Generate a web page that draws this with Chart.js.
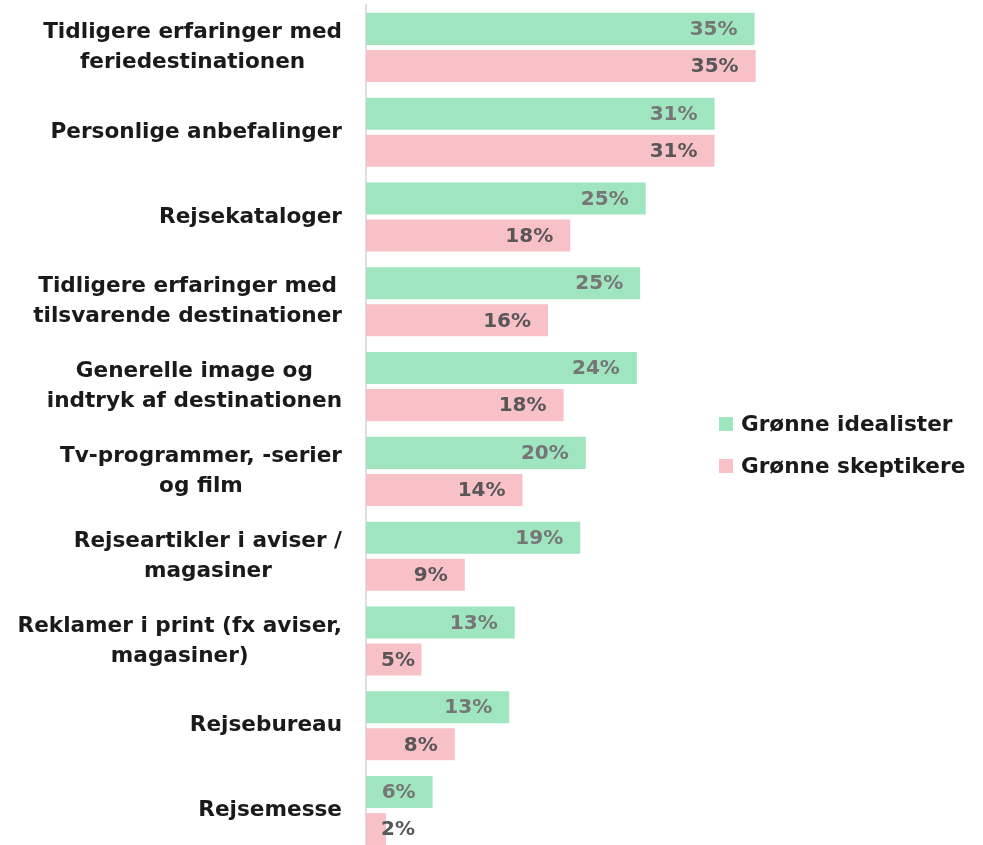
<!DOCTYPE html>
<html>
<head>
<meta charset="utf-8">
<script src="https://cdn.jsdelivr.net/npm/chart.js@4"></script>
<style>
  html, body { margin: 0; padding: 0; background: #fff; overflow: hidden; }
  #wrap { width: 983px; height: 858px; position: relative; }
</style>
</head>
<body>
<div id="wrap"><canvas id="chart"></canvas></div>
<script>
// categories (multi-line labels as in the original)
const categories = [
  ['Tidligere erfaringer med', 'feriedestinationen'],
  ['Personlige anbefalinger'],
  ['Rejsekataloger'],
  ['Tidligere erfaringer med', 'tilsvarende destinationer'],
  ['Generelle image og', 'indtryk af destinationen'],
  ['Tv-programmer, -serier', 'og film'],
  ['Rejseartikler i aviser /', 'magasiner'],
  ['Reklamer i print (fx aviser,', 'magasiner)'],
  ['Rejsebureau'],
  ['Rejsemesse']
];
const seriesNames = ['Grønne idealister', 'Grønne skeptikere'];
const idealister = [35.0, 31.4, 25.2, 24.7, 24.4, 19.8, 19.3, 13.4, 12.9, 6.0];
const skeptikere = [35.1, 31.4, 18.4, 16.4, 17.8, 14.1, 8.9, 5.0, 8.0, 1.8];

const FONT = '"DejaVu Sans", sans-serif';
const labelFont = 'bold 21.6px ' + FONT;

// draws the category labels: block right-aligned, lines centred inside the block
const categoryLabels = {
  id: 'categoryLabels',
  afterDraw(chart) {
    const ctx = chart.ctx;
    const y = chart.scales.y;
    ctx.save();
    ctx.font = labelFont;
    ctx.fillStyle = '#1a1a1a';
    ctx.textAlign = 'center';
    ctx.textBaseline = 'middle';
    categories.forEach((lines, i) => {
      const cy = y.getPixelForTick(i);
      const w = Math.max(...lines.map(l => ctx.measureText(l).width));
      const cx = chart.chartArea.left - 24 - w / 2;
      lines.forEach((l, k) => {
        ctx.fillText(l, cx, cy + (k - (lines.length - 1) / 2) * 30);
      });
    });
    ctx.restore();
  }
};

// value labels at the end of each bar
const valueLabels = {
  id: 'valueLabels',
  afterDatasetsDraw(chart) {
    const ctx = chart.ctx;
    ctx.save();
    ctx.font = 'bold 20px ' + FONT;
    ctx.textAlign = 'right';
    ctx.textBaseline = 'middle';
    chart.data.datasets.forEach((ds, di) => {
      const meta = chart.getDatasetMeta(di);
      ctx.fillStyle = ds.labelColor;
      meta.data.forEach((bar, i) => {
        const txt = Math.round(ds.data[i]) + '%';
        const tw = ctx.measureText(txt).width;
        const xr = Math.max(bar.x - 17, bar.base + 15 + tw);
        ctx.fillText(txt, xr, bar.y + 1);
      });
    });
    ctx.restore();
  }
};

// legend on the right, vertically in the middle
const sideLegend = {
  id: 'sideLegend',
  afterDraw(chart) {
    const ctx = chart.ctx;
    ctx.save();
    ctx.font = labelFont;
    ctx.textBaseline = 'middle';
    ctx.textAlign = 'left';
    chart.data.datasets.forEach((ds, i) => {
      const cy = 424 + i * 42;
      ctx.fillStyle = ds.backgroundColor;
      ctx.fillRect(719, cy - 7, 14, 14);
      ctx.fillStyle = '#1a1a1a';
      ctx.fillText(ds.label, 741, cy + 1);
    });
    ctx.restore();
  }
};

const ctx = document.getElementById('chart').getContext('2d');
const chart = new Chart(ctx, {
  type: 'bar',
  data: {
    labels: categories,
    datasets: [
      { label: seriesNames[0], data: idealister, backgroundColor: '#9fe5bf', labelColor: '#767676' },
      { label: seriesNames[1], data: skeptikere, backgroundColor: '#f7c1c7', labelColor: '#575757' }
    ]
  },
  options: {
    indexAxis: 'y',
    responsive: true,
    maintainAspectRatio: false,
    animation: false,
    categoryPercentage: 0.874,
    barPercentage: 0.865,
    layout: { padding: { top: 5, bottom: 5, left: 0, right: 173 } },
    scales: {
      x: { display: false, min: 0, max: 40 },
      y: {
        grid: { display: false },
        border: { color: '#dedede', width: 2 },
        ticks: { display: false },
        afterFit(scale) { scale.width = 366; }
      }
    },
    plugins: {
      legend: { display: false },
      tooltip: { enabled: false }
    }
  },
  plugins: [categoryLabels, valueLabels, sideLegend]
});
</script>
</body>
</html>
